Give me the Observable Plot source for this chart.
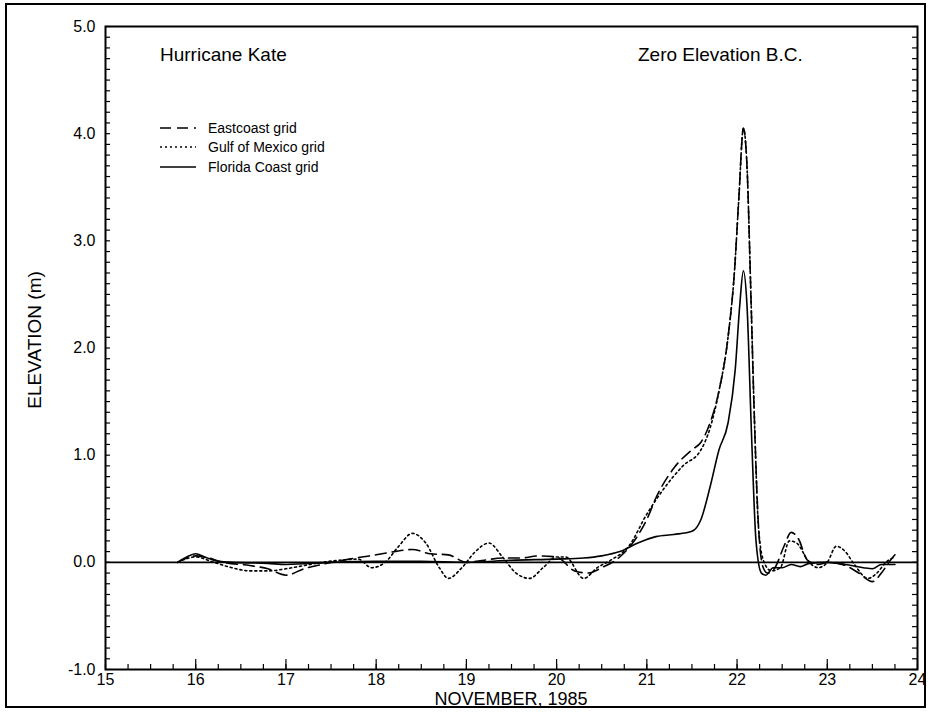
<!DOCTYPE html>
<html><head><meta charset="utf-8">
<script src="https://cdn.jsdelivr.net/npm/d3@7"></script>
<script src="https://cdn.jsdelivr.net/npm/@observablehq/plot@0.6"></script>
<style>
body{margin:0;background:#fff;font-family:"Liberation Sans",Arial,Helvetica,sans-serif;color:#000;}
#wrap{position:relative;width:929px;height:714px;overflow:hidden;}
#border{position:absolute;left:5px;top:3px;width:921px;height:705px;border:2px solid #000;box-sizing:border-box;pointer-events:none;}
#chart{position:absolute;left:0;top:0;}
.ann{position:absolute;font-size:19px;white-space:nowrap;line-height:1;}
#legend{position:absolute;left:160px;top:118px;font-size:14px;}
#legend div{display:flex;align-items:center;height:19.5px;}
#legend svg{margin-right:12px;}
#ylab{position:absolute;left:35px;top:340px;transform:translate(-50%,-50%) rotate(-90deg);font-size:19px;white-space:nowrap;}
#xlab{position:absolute;left:511px;top:699px;transform:translate(-50%,-50%);font-size:18px;white-space:nowrap;line-height:1;}
</style></head>
<body>
<div id="wrap">
<div id="chart"></div>
<div id="border"></div>
<div class="ann" style="left:160px;top:45px;">Hurricane Kate</div>
<div class="ann" style="left:638px;top:45px;">Zero Elevation B.C.</div>
<div id="legend"></div>
<div id="ylab">ELEVATION (m)</div>
<div id="xlab">NOVEMBER, 1985</div>
</div>
<script>
// ---- data ----
const xMajor = [15,16,17,18,19,20,21,22,23,24];
const yMajor = [-1,0,1,2,3,4,5];
const xMinor = d3.range(15, 24.001, 0.25);
const yMinor = d3.range(-1, 5.001, 0.1);

const seriesNames = ["Eastcoast grid","Gulf of Mexico grid","Florida Coast grid"];
const seriesDash = ["11,6","2,3","none"];

const eastcoast = [
[15.8,0.0],[15.9,0.04],[16.0,0.06],[16.1,0.05],[16.3,0.0],[16.6,-0.03],[16.8,-0.06],[17.0,-0.12],
[17.2,-0.06],[17.4,-0.02],[17.7,0.03],[18.0,0.07],[18.2,0.1],[18.4,0.12],[18.6,0.08],[18.8,0.07],
[19.0,0.0],[19.2,0.02],[19.4,0.04],[19.6,0.04],[19.8,0.06],[20.0,0.05],[20.2,-0.08],[20.35,-0.1],
[20.5,-0.05],[20.7,0.05],[20.9,0.25],[21.0,0.4],[21.1,0.6],[21.3,0.88],[21.5,1.05],[21.6,1.12],
[21.7,1.3],[21.8,1.6],[21.9,2.1],[21.97,2.7],[22.02,3.4],[22.07,4.05],[22.11,3.7],[22.15,2.6],
[22.19,1.4],[22.24,0.3],[22.29,-0.05],[22.34,-0.1],[22.42,-0.05],[22.52,0.15],[22.6,0.28],
[22.68,0.22],[22.78,0.02],[22.9,-0.02],[23.0,0.0],[23.2,-0.03],[23.35,-0.1],[23.5,-0.18],
[23.6,-0.1],[23.7,0.02],[23.75,0.07]
];
const gulf = [
[15.8,0.0],[16.0,0.05],[16.2,0.0],[16.4,-0.05],[16.6,-0.08],[16.8,-0.08],[17.0,-0.06],[17.2,-0.03],
[17.4,0.0],[17.6,0.02],[17.8,0.03],[17.95,-0.05],[18.1,0.0],[18.25,0.15],[18.4,0.27],[18.55,0.18],
[18.7,-0.05],[18.8,-0.15],[18.95,-0.05],[19.1,0.1],[19.25,0.18],[19.4,0.05],[19.55,-0.1],[19.7,-0.15],
[19.85,-0.05],[20.0,0.05],[20.1,0.05],[20.3,-0.15],[20.45,-0.05],[20.6,0.02],[20.8,0.15],[21.0,0.45],
[21.2,0.7],[21.4,0.9],[21.6,1.05],[21.7,1.25],[21.8,1.6],[21.9,2.1],[21.97,2.7],[22.02,3.4],
[22.07,4.05],[22.11,3.7],[22.15,2.6],[22.19,1.4],[22.24,0.3],[22.3,0.0],[22.38,-0.08],[22.48,-0.05],
[22.58,0.2],[22.66,0.18],[22.8,0.0],[22.9,-0.05],[23.0,0.0],[23.1,0.15],[23.2,0.1],[23.3,-0.02],
[23.45,-0.15],[23.55,-0.1],[23.65,0.0],[23.75,0.05]
];
const florida = [
[15.8,0.0],[15.9,0.05],[16.0,0.08],[16.1,0.05],[16.2,0.02],[16.4,0.0],[16.8,-0.01],[17.0,-0.02],
[17.5,0.0],[18.0,0.01],[18.5,0.01],[19.0,0.0],[19.5,0.02],[20.0,0.03],[20.3,0.04],[20.5,0.06],
[20.7,0.1],[20.9,0.18],[21.1,0.24],[21.3,0.26],[21.5,0.29],[21.6,0.4],[21.7,0.7],[21.8,1.05],
[21.9,1.3],[21.98,1.8],[22.03,2.4],[22.07,2.72],[22.11,2.4],[22.16,1.2],[22.21,0.2],[22.27,-0.1],
[22.32,-0.12],[22.4,-0.05],[22.5,-0.05],[22.6,-0.02],[22.7,-0.04],[22.8,-0.01],[23.0,0.0],
[23.2,-0.02],[23.4,-0.05],[23.5,-0.06],[23.6,-0.02],[23.75,-0.02]
];
const allSeries = [eastcoast, gulf, florida];

// ---- layout ----
const W = 929, H = 714, mL = 105, mR = 12, mT = 26, mB = 45;
const innerW = W - mL - mR, innerH = H - mT - mB;

const lineMarks = allSeries.map((s, i) => Plot.line(s, {
  x: d => d[0], y: d => d[1], stroke: "#000", strokeWidth: 1.6,
  strokeDasharray: seriesDash[i], curve: "monotone-x"
}));

const chart = Plot.plot({
  width: W, height: H,
  marginLeft: mL, marginRight: mR, marginTop: mT, marginBottom: mB,
  x: {domain: [15, 24]},
  y: {domain: [-1, 5]},
  style: {fontFamily: "Liberation Sans, Arial, sans-serif", fontSize: "16px", color: "#000", background: "transparent", overflow: "visible"},
  marks: [
    Plot.tickX(xMinor, {x: d => d, insetTop: innerH - 5, stroke: "#000", strokeWidth: 1.2}),
    Plot.tickX(xMajor, {x: d => d, insetTop: innerH - 10, stroke: "#000", strokeWidth: 1.2}),
    Plot.tickY(yMinor, {y: d => d, insetRight: innerW - 5, stroke: "#000", strokeWidth: 1.2}),
    Plot.tickY(yMinor, {y: d => d, insetLeft: innerW - 5, stroke: "#000", strokeWidth: 1.2}),
    Plot.ruleY([0], {stroke: "#000", strokeWidth: 1.6}),
    ...lineMarks,
    Plot.frame({stroke: "#000", strokeWidth: 2}),
    Plot.axisX({ticks: xMajor, tickSize: 0, tickPadding: 4, tickFormat: d => String(d), label: null, fontSize: 16}),
    Plot.axisY({ticks: yMajor, tickSize: 0, tickPadding: 10, tickFormat: d => d.toFixed(1), label: null, fontSize: 16})
  ]
});
document.getElementById("chart").appendChild(chart);

// legend
const leg = document.getElementById("legend");
seriesNames.forEach((n, i) => {
  const row = document.createElement("div");
  row.innerHTML = `<svg width="36" height="4"><line x1="0" y1="2" x2="36" y2="2" stroke="#000" stroke-width="1.6" stroke-dasharray="${seriesDash[i]}"/></svg><span>${n}</span>`;
  leg.appendChild(row);
});
</script>
</body></html>
